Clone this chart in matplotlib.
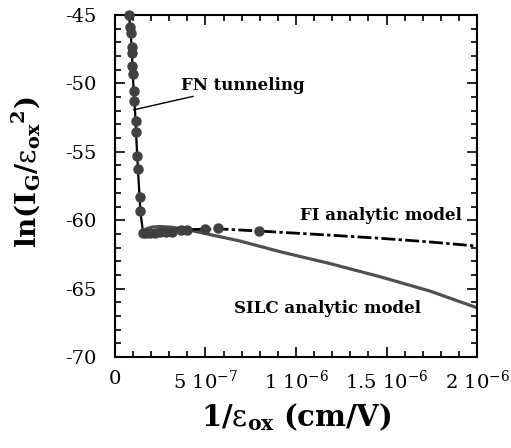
import matplotlib
matplotlib.use("Agg")
import matplotlib.pyplot as plt
from matplotlib.ticker import MultipleLocator

plt.rcParams['font.family'] = 'DejaVu Serif'
plt.rcParams['mathtext.fontset'] = 'dejavuserif'
plt.rcParams['axes.unicode_minus'] = False

# measured gate current, ln(IG/Eox^2) against 1/Eox (cm/V)
fn_x = [0.079e-6, 0.083e-6, 0.087e-6, 0.092e-6, 0.094e-6, 0.096e-6, 0.099e-6,
        0.103e-6, 0.107e-6, 0.114e-6, 0.116e-6, 0.123e-6, 0.127e-6, 0.136e-6,
        0.140e-6, 0.156e-6, 0.171e-6, 0.193e-6, 0.221e-6, 0.249e-6, 0.282e-6,
        0.315e-6, 0.365e-6, 0.399e-6, 0.497e-6, 0.571e-6, 0.797e-6]
fn_y = [-45.0, -45.86, -46.35, -47.32, -47.76, -48.73, -49.31,
        -50.53, -51.25, -52.73, -53.55, -55.31, -56.28, -58.33,
        -59.35, -60.96, -60.97, -60.94, -60.90, -60.86, -60.86,
        -60.83, -60.75, -60.70, -60.64, -60.59, -60.81]
n_fn = 16  # points in the FN tunneling branch

# SILC analytic model
silc_x = [0.1436e-6, 0.1713e-6, 0.2044e-6, 0.2486e-6, 0.3039e-6, 0.3702e-6,
          0.4514e-6, 0.6906e-6, 0.9116e-6, 1.1878e-6, 1.4641e-6, 1.7403e-6, 2.0e-6]
silc_y = [-61.01, -60.64, -60.50, -60.46, -60.50, -60.61,
          -60.84, -61.52, -62.30, -63.17, -64.13, -65.18, -66.40]

# FI analytic model
fi_x = [0.1547e-6, 0.2486e-6, 0.4144e-6, 0.5801e-6, 0.7956e-6, 1.1326e-6,
        1.4641e-6, 1.7403e-6, 2.0e-6]
fi_y = [-60.94, -60.79, -60.68, -60.64, -60.79, -61.05, -61.32, -61.59, -61.89]

xticks = [0, 5e-7, 1e-6, 1.5e-6, 2e-6]
xtick_labels = ['0', r'5 10$^{-7}$', r'1 10$^{-6}$', r'1.5 10$^{-6}$', r'2 10$^{-6}$']
yticks = [-70, -65, -60, -55, -50, -45]

fig = plt.figure(figsize=(5.11, 4.48), dpi=100)
ax = fig.add_axes([0.225, 0.2031, 0.7085, 0.7634])

ax.plot(silc_x, silc_y, color='#505050', lw=2.3, zorder=2)
ax.plot(fi_x, fi_y, color='black', lw=2, dashes=(5, 1.2, 1.2, 1.2), zorder=3)
ax.plot(fn_x[:n_fn], fn_y[:n_fn], color='black', lw=1.6, zorder=3)
ax.plot(fn_x, fn_y, 'o', color='#404040', ms=6.5, mec='#404040', zorder=4,
        clip_on=False)

bold = dict(fontweight='bold', fontsize=12)
ax.annotate('FN tunneling', xy=(0.101e-6, -51.94), xytext=(0.365e-6, -50.12),
            va='center', ha='left',
            arrowprops=dict(arrowstyle='-', color='black', lw=1, shrinkA=0, shrinkB=0),
            **bold)
ax.text(1.022e-6, -59.62, 'FI analytic model', va='center', ha='left', **bold)
ax.text(0.657e-6, -66.42, 'SILC analytic model', va='center', ha='left', **bold)

ax.set_xlim(0, 2e-6)
ax.set_ylim(-70, -45)
ax.set_xticks(xticks)
ax.set_xticklabels(xtick_labels)
ax.set_yticks(yticks)
ax.xaxis.set_minor_locator(MultipleLocator(1e-7))
ax.yaxis.set_minor_locator(MultipleLocator(1))
ax.tick_params(which='both', direction='in', top=True, right=True, width=1.2,
               labelsize=14)
ax.tick_params(axis='x', pad=9)
ax.tick_params(axis='y', pad=13)
ax.tick_params(which='major', length=7)
ax.tick_params(which='minor', length=4)
for s in ax.spines.values():
    s.set_linewidth(1.5)

ax.set_ylabel(r'$\mathbf{ln(I_G/}\mathrm{\varepsilon}_{\mathbf{ox}}{}^{\mathbf{2}}\mathbf{)}$',
              fontsize=20)
ax.yaxis.set_label_coords(-0.20, 0.54)
ax.set_xlabel(r'$\mathbf{1/}\mathrm{\varepsilon}_{\mathbf{ox}}\mathbf{\ (cm/V)}$',
              fontsize=21, labelpad=6)

fig.savefig('out.png', dpi=100)
